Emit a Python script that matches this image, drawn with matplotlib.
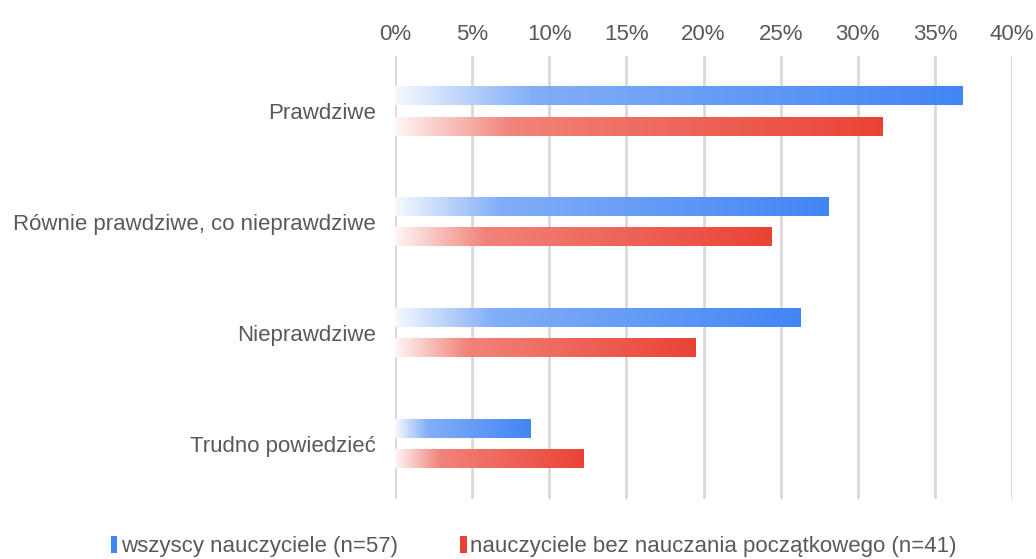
import numpy as np
import matplotlib
matplotlib.use("Agg")
import matplotlib.pyplot as plt
from matplotlib.colors import to_rgb
from matplotlib.patches import Patch

# Data
categories = ["Prawdziwe", "Równie prawdziwe, co nieprawdziwe", "Nieprawdziwe", "Trudno powiedzieć"]
series_names = ["wszyscy nauczyciele (n=57)", "nauczyciele bez nauczania początkowego (n=41)"]
wszyscy = [36.8, 28.1, 26.3, 8.8]
bez_poczatkowego = [31.6, 24.4, 19.5, 12.2]
colors = ["#4285F4", "#EA4335"]
xticks = [0, 5, 10, 15, 20, 25, 30, 35, 40]

plt.rcParams['font.family'] = ['Liberation Sans', 'DejaVu Sans']
text_color = "#595959"

fig = plt.figure(figsize=(10.36, 5.59), dpi=100)
ax = fig.add_axes([395 / 1036, 1 - 499 / 559, (1012 - 395) / 1036, (499 - 56) / 559])

bar_h = 0.165
offset = 0.137


def gradient_bar(ax, y, width, color):
    # fade from white on the left to the full colour on the right
    n = 256
    t = np.linspace(0, 1, n)
    alpha = np.interp(t, [0, 0.24, 1], [0.05, 0.66, 1.0])
    rgb = np.array(to_rgb(color))
    img = (1 - alpha[:, None]) * np.ones(3) + alpha[:, None] * rgb
    img = img[None, :, :]
    ax.imshow(img, extent=[0, width, y - bar_h / 2, y + bar_h / 2],
              aspect='auto', origin='lower', zorder=3, interpolation='bilinear')


ypos = np.arange(len(categories))
for i, (a, b) in enumerate(zip(wszyscy, bez_poczatkowego)):
    gradient_bar(ax, i - offset, a, colors[0])
    gradient_bar(ax, i + offset, b, colors[1])

ax.set_xlim(0, 40)
ax.set_ylim(len(categories) - 0.5, -0.5)
ax.set_yticks(ypos)
ax.set_yticklabels(categories, fontsize=16, color=text_color)
ax.set_xticks(xticks)
ax.set_xticklabels([f"{v}%" for v in xticks], fontsize=16, color=text_color)
ax.xaxis.tick_top()
ax.tick_params(axis='x', length=0, pad=8)
ax.tick_params(axis='y', length=0, pad=14)
ax.grid(axis='x', color="#D9D9D9", linewidth=2, zorder=0)
ax.set_axisbelow(True)
for s in ax.spines.values():
    s.set_visible(False)

handles = [Patch(facecolor=c, edgecolor='none') for c in colors]
fig.legend(handles, series_names, loc='lower center', ncol=2, frameon=False,
           bbox_to_anchor=(0.515, -0.033), fontsize=16, labelcolor=text_color,
           handlelength=0.3, handleheight=0.8, handletextpad=0.15, columnspacing=2.8)

fig.savefig("out.png", dpi=100, facecolor="white")
